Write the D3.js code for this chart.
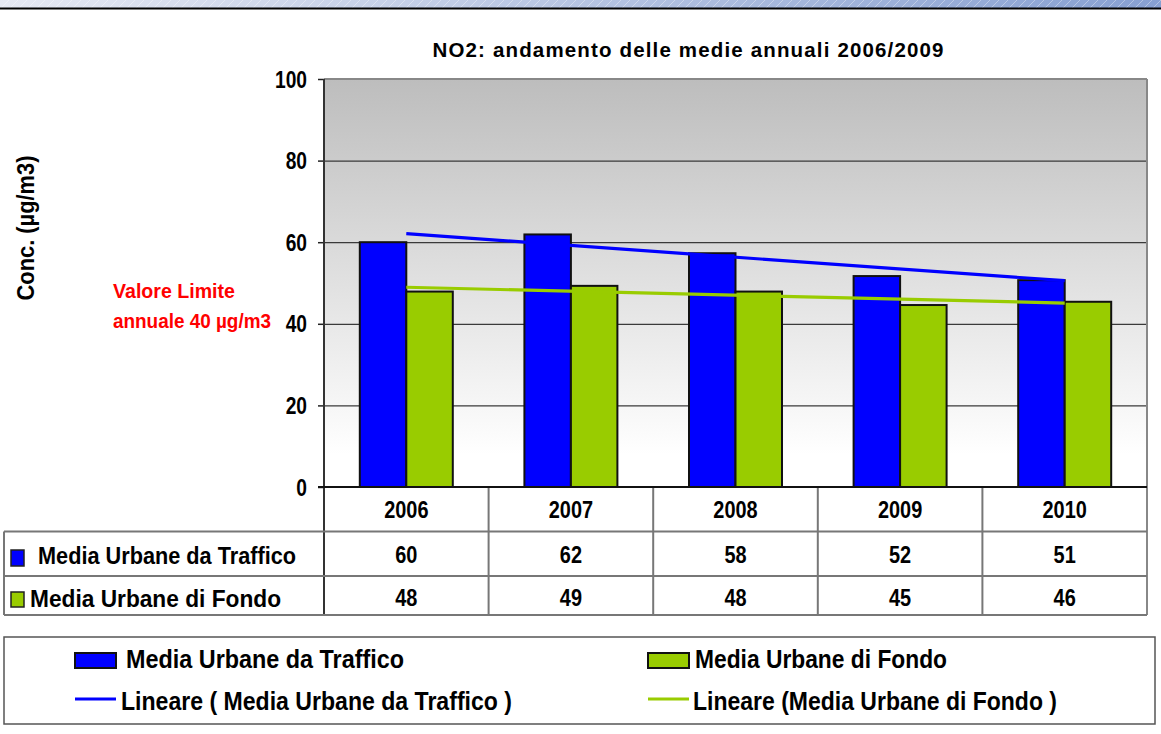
<!DOCTYPE html>
<html>
<head>
<meta charset="utf-8">
<script src="https://cdn.jsdelivr.net/npm/d3@7"></script>
<style>
  body { margin: 0; background: #fff; }
  text { font-family: "Liberation Sans", Arial, sans-serif; font-weight: bold; }
</style>
</head>
<body>
<svg id="chart" width="1161" height="734"></svg>
<script>
// data
const years = ["2006", "2007", "2008", "2009", "2010"];
const traffico = [60.0, 61.9, 57.3, 51.7, 50.7];
const fondo = [47.9, 49.3, 47.9, 44.6, 45.4];
const labelTraffico = ["60", "62", "58", "52", "51"];
const labelFondo = ["48", "49", "48", "45", "46"];
const yTicks = [0, 20, 40, 60, 80, 100];
const seriesNames = ["Media Urbane da Traffico", "Media Urbane di Fondo"];
const trendNames = ["Lineare ( Media Urbane da Traffico )", "Lineare (Media Urbane di Fondo )"];
const colBlue = "#0000ff", colGreen = "#99cc00";

const svg = d3.select("#chart");

// squeeze text horizontally like the original
function squeeze(sel, k) {
  sel.each(function () {
    let n = this.getComputedTextLength();
    d3.select(this).attr("textLength", n * k).attr("lengthAdjust", "spacingAndGlyphs");
  });
}
function fit(sel, w, adj) {
  sel.attr("textLength", w).attr("lengthAdjust", adj || "spacingAndGlyphs");
}

let defs = svg.append("defs");
let bg = defs.append("linearGradient").attr("id", "plotbg").attr("x1", 0).attr("x2", 0).attr("y1", 0).attr("y2", 1);
bg.append("stop").attr("offset", "0%").attr("stop-color", "#bdbdbd");
bg.append("stop").attr("offset", "92%").attr("stop-color", "#ffffff");
let hb = defs.append("linearGradient").attr("id", "headbg");
hb.append("stop").attr("offset", "0%").attr("stop-color", "#e6e9f3");
hb.append("stop").attr("offset", "100%").attr("stop-color", "#87a0d2");
let pat = defs.append("pattern").attr("id", "stripes").attr("width", 9).attr("height", 9)
  .attr("patternUnits", "userSpaceOnUse");
pat.append("line").attr("x1", 0).attr("y1", 9).attr("x2", 9).attr("y2", 0)
  .attr("stroke", "#ffffff").attr("stroke-opacity", 0.35).attr("stroke-width", 1);

// header strip
svg.append("rect").attr("x", 0).attr("y", 0).attr("width", 1161).attr("height", 8).attr("fill", "url(#headbg)");
svg.append("rect").attr("x", 0).attr("y", 0).attr("width", 1161).attr("height", 8).attr("fill", "url(#stripes)");
svg.append("line").attr("x1", 0).attr("x2", 1161).attr("y1", 8.5).attr("y2", 8.5).attr("stroke", "#000").attr("stroke-width", 2);

// scales
const pLeft = 324, pRight = 1147, pTop = 79, pBottom = 487, tBottom = 615;
const x = d3.scaleBand().domain(years).range([pLeft, pRight]).paddingInner(0).paddingOuter(0);
const xs = d3.scaleBand().domain(["t", "f"]).range([0, x.bandwidth()]).paddingInner(0).paddingOuter(0.77);
const y = d3.scaleLinear().domain([0, 100]).range([pBottom, pTop]);

// plot background
svg.append("rect").attr("x", pLeft).attr("y", pTop).attr("width", pRight - pLeft).attr("height", pBottom - pTop)
  .attr("fill", "url(#plotbg)");

// gridlines
svg.append("g").attr("transform", `translate(${pLeft},0)`)
  .call(d3.axisLeft(y).tickValues([20, 40, 60, 80]).tickSize(-(pRight - pLeft)).tickFormat(""))
  .call(g => g.select(".domain").remove())
  .selectAll("line").attr("stroke", "#3a3a3a").attr("stroke-width", 1.2);

svg.append("line").attr("x1", pLeft).attr("x2", pRight).attr("y1", pTop).attr("y2", pTop)
  .attr("stroke", "#888").attr("stroke-width", 2);
svg.append("line").attr("x1", pRight).attr("x2", pRight).attr("y1", pTop).attr("y2", tBottom)
  .attr("stroke", "#888").attr("stroke-width", 2);

// bars
let groups = svg.append("g").selectAll("g").data(years).join("g")
  .attr("transform", d => `translate(${x(d)},0)`);
groups.append("rect")
  .attr("x", xs("t")).attr("width", xs.bandwidth())
  .attr("y", (d, i) => y(traffico[i])).attr("height", (d, i) => y(0) - y(traffico[i]))
  .attr("fill", colBlue).attr("stroke", "#111").attr("stroke-width", 2);
groups.append("rect")
  .attr("x", xs("f")).attr("width", xs.bandwidth())
  .attr("y", (d, i) => y(fondo[i])).attr("height", (d, i) => y(0) - y(fondo[i]))
  .attr("fill", colGreen).attr("stroke", "#111").attr("stroke-width", 2);

// linear trend lines (least squares over the series)
function trend(vals) {
  let n = vals.length, mx = (n - 1) / 2, my = d3.mean(vals);
  let sxy = d3.sum(vals, (v, i) => (i - mx) * (v - my));
  let sxx = d3.sum(vals, (v, i) => (i - mx) * (i - mx));
  let b = sxy / sxx, a = my - b * mx;
  return [[0, a], [n - 1, a + b * (n - 1)]];
}
let line = d3.line().x(d => x(years[d[0]]) + x.bandwidth() / 2).y(d => y(d[1]));
svg.append("path").attr("d", line(trend(traffico))).attr("stroke", colBlue).attr("stroke-width", 3.2).attr("fill", "none");
svg.append("path").attr("d", line(trend(fondo))).attr("stroke", colGreen).attr("stroke-width", 3.2).attr("fill", "none");

// y axis
let yAxis = svg.append("g").attr("transform", `translate(${pLeft},0)`)
  .call(d3.axisLeft(y).tickValues(yTicks).tickSize(6).tickPadding(11));
yAxis.select(".domain").remove();
yAxis.selectAll("line").attr("stroke", "#222").attr("stroke-width", 1.5);
yAxis.selectAll("text").attr("font-size", 24).attr("fill", "#000").attr("dy", "0.34em")
  .style("font-family", "'Liberation Sans', Arial, sans-serif").style("font-weight", "bold")
  .call(squeeze, 0.8);
svg.append("line").attr("x1", pLeft).attr("x2", pLeft).attr("y1", pTop).attr("y2", tBottom)
  .attr("stroke", "#333").attr("stroke-width", 2);

// data table
const tbl = "#777";
[531.5, 576, tBottom].forEach(v => {
  svg.append("line").attr("x1", 4).attr("x2", pRight).attr("y1", v).attr("y2", v)
    .attr("stroke", tbl).attr("stroke-width", 2);
});
svg.append("line").attr("x1", 4).attr("x2", 4).attr("y1", 531.5).attr("y2", tBottom).attr("stroke", tbl).attr("stroke-width", 2);
svg.selectAll(".vdiv").data(years.slice(1)).join("line").attr("class", "vdiv")
  .attr("x1", d => x(d)).attr("x2", d => x(d)).attr("y1", pBottom).attr("y2", tBottom)
  .attr("stroke", tbl).attr("stroke-width", 2);
svg.append("line").attr("x1", pLeft - 6).attr("x2", pRight).attr("y1", pBottom).attr("y2", pBottom)
  .attr("stroke", "#111").attr("stroke-width", 2);

let cx = d => x(d) + x.bandwidth() / 2;
svg.selectAll(".yr").data(years).join("text").attr("class", "yr")
  .attr("x", cx).attr("y", 518).attr("text-anchor", "middle").attr("font-size", 24).text(d => d)
  .call(squeeze, 0.83);
svg.selectAll(".vt").data(years).join("text").attr("class", "vt")
  .attr("x", cx).attr("y", 563).attr("text-anchor", "middle").attr("font-size", 24)
  .text((d, i) => labelTraffico[i]).call(squeeze, 0.83);
svg.selectAll(".vf").data(years).join("text").attr("class", "vf")
  .attr("x", cx).attr("y", 606).attr("text-anchor", "middle").attr("font-size", 24)
  .text((d, i) => labelFondo[i]).call(squeeze, 0.83);

svg.append("rect").attr("x", 11).attr("y", 550).attr("width", 13).attr("height", 16)
  .attr("fill", colBlue).attr("stroke", "#222").attr("stroke-width", 1.5);
svg.append("text").attr("x", 38).attr("y", 564).attr("font-size", 23.5).text(seriesNames[0]).call(fit, 258);
svg.append("rect").attr("x", 11).attr("y", 592).attr("width", 13).attr("height", 15)
  .attr("fill", colGreen).attr("stroke", "#222").attr("stroke-width", 1.5);
svg.append("text").attr("x", 30).attr("y", 607).attr("font-size", 23.5).text(seriesNames[1]).call(fit, 251);

// titles
svg.append("text").attr("x", 688).attr("y", 57).attr("text-anchor", "middle").attr("font-size", 20.5)
  .text("NO2: andamento delle medie annuali 2006/2009").call(fit, 511, "spacing");
svg.append("text").attr("transform", "translate(34,228) rotate(-90)").attr("text-anchor", "middle")
  .attr("font-size", 23).text("Conc. (µg/m3)").call(fit, 145);
svg.append("text").attr("x", 113).attr("y", 298).attr("font-size", 20).attr("fill", "#ff0000")
  .text("Valore Limite").call(fit, 122);
svg.append("text").attr("x", 113).attr("y", 328).attr("font-size", 20).attr("fill", "#ff0000")
  .text("annuale 40 µg/m3").call(fit, 158);

// legend
svg.append("rect").attr("x", 4).attr("y", 637).attr("width", 1151).attr("height", 87)
  .attr("fill", "none").attr("stroke", "#555").attr("stroke-width", 1.5);
const legX = [75, 648];
const legW = [278, 252];
const trendW = [391, 364];
const cols = [colBlue, colGreen];
legX.forEach((lx, i) => {
  svg.append("rect").attr("x", lx).attr("y", 653).attr("width", 41).attr("height", 15)
    .attr("fill", cols[i]).attr("stroke", "#111").attr("stroke-width", 2);
  svg.append("text").attr("x", i === 0 ? 126 : 695).attr("y", 668).attr("font-size", 25.5)
    .text(seriesNames[i]).call(fit, legW[i]);
  svg.append("line").attr("x1", lx).attr("x2", lx + 41).attr("y1", 699).attr("y2", 699)
    .attr("stroke", cols[i]).attr("stroke-width", 3);
  svg.append("text").attr("x", i === 0 ? 121 : 693).attr("y", 710).attr("font-size", 25.5)
    .text(trendNames[i]).call(fit, trendW[i]);
});
</script>
</body>
</html>
